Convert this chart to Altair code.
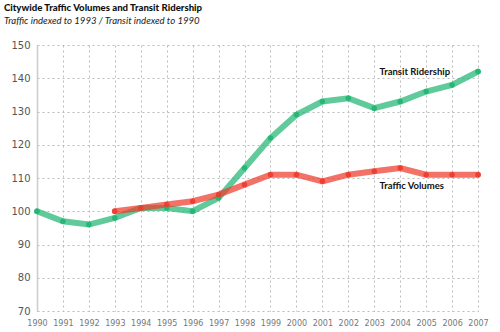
import altair as alt
import pandas as pd

transit_years = list(range(1990, 2008))
transit_values = [100, 97, 96, 98, 101, 101, 100, 104, 113, 122, 129, 133, 134, 131, 133, 136, 138, 142]
traffic_years = list(range(1993, 2008))
traffic_values = [100, 101, 102, 103, 105, 108, 111, 111, 109, 111, 112, 113, 111, 111, 111]

label_names = ["Transit Ridership", "Traffic Volumes"]
label_x = [2003.2, 2003.2]
label_y = [141.9, 107.6]

series_names = ["Transit Ridership", "Traffic Volumes"]
series_colors = ["#22b573", "#ef3b2c"]

df = pd.concat([
    pd.DataFrame({"year": transit_years, "value": transit_values, "series": "Transit Ridership"}),
    pd.DataFrame({"year": traffic_years, "value": traffic_values, "series": "Traffic Volumes"}),
])
labels = pd.DataFrame({"name": label_names, "year": label_x, "value": label_y})

xscale = alt.Scale(domain=[1990, 2007], nice=False, zero=False)
yscale = alt.Scale(domain=[70, 150], nice=False, zero=False)
color = alt.Color("series:N", scale=alt.Scale(domain=series_names, range=series_colors), legend=None)

x_axis = alt.Axis(values=list(range(1990, 2008)), format="d", labelFontSize=8,
                  labelFont="DejaVu Sans", labelColor="#777", domain=False, ticks=False,
                  labelOverlap=False, labelFlush=False, labelPadding=8, grid=True,
                  gridDash=[2, 3], gridColor="#bbb")
y_axis = alt.Axis(values=list(range(70, 151, 10)), labelFontSize=10, labelFont="DejaVu Sans",
                  labelColor="#555", domain=True, domainColor="#ccc", domainWidth=1.5,
                  labelOverlap=False, labelFlush=False, ticks=False, labelPadding=7, grid=True,
                  gridDash=[2, 3], gridColor="#bbb")

xenc = alt.X("year:Q", scale=xscale, title=None, axis=x_axis)
yenc = alt.Y("value:Q", scale=yscale, title=None, axis=y_axis)

base = alt.Chart(df).encode(x=xenc, y=yenc, color=color, detail="series:N")

lines = base.mark_line(strokeWidth=6, opacity=0.72, strokeCap="round")
points = base.mark_circle(size=30, opacity=0.95)

text = alt.Chart(labels).mark_text(align="left", baseline="middle", fontSize=9.5, fontWeight="bold",
                                    font="Lato", color="#111").encode(
    x=xenc, y=yenc, text="name:N")

chart = alt.layer(lines, points, text).properties(
    width=441, height=266,
    title=alt.TitleParams(
        "Citywide Traffic Volumes and Transit Ridership",
        subtitle="Traffic indexed to 1993 / Transit indexed to 1990",
        anchor="start", dx=-7, offset=14,
        font="Lato", fontSize=9.6, fontWeight=900, color="#111",
        subtitleFont="Lato", subtitleFontSize=9.6, subtitleFontStyle="italic", subtitleColor="#222",
        subtitlePadding=4,
    ),
    autosize=alt.AutoSizeParams(type="none"),
    padding={"left": 37, "top": 45, "right": 22, "bottom": 21},
).configure_view(stroke=None)

chart.save("out.html", embed_options={"renderer": "svg", "actions": False})
